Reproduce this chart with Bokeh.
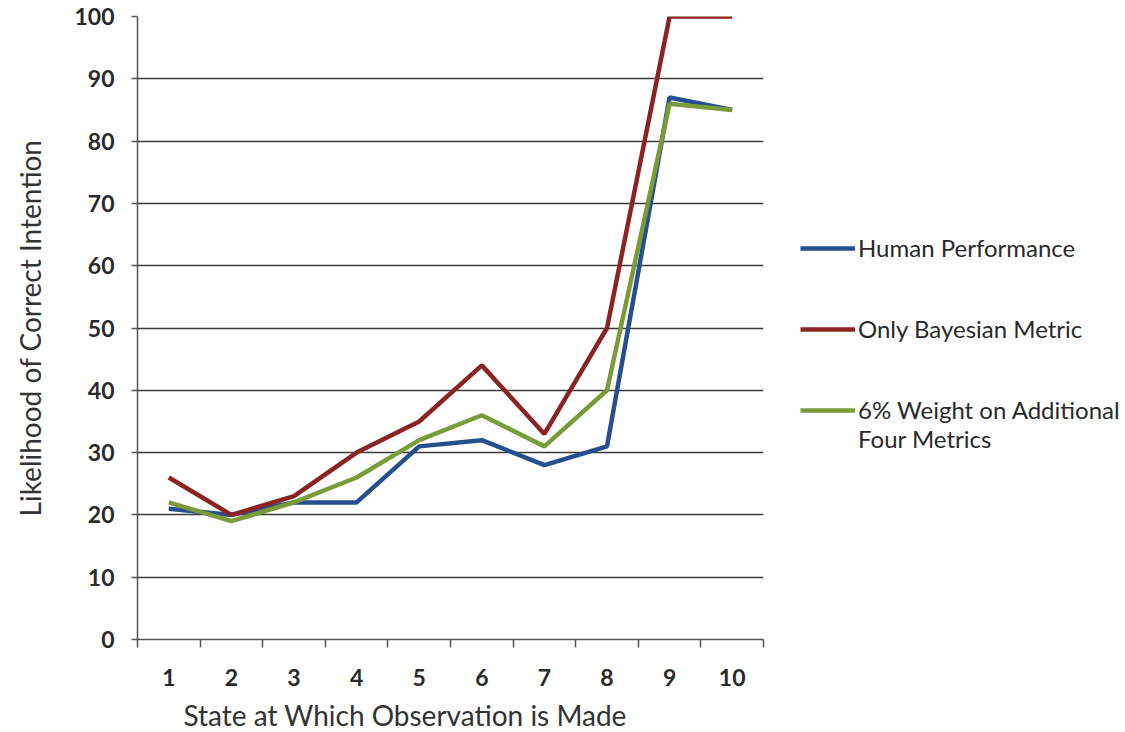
from bokeh.plotting import figure
from bokeh.models import Legend, LegendItem, FixedTicker, Title, Range1d
from bokeh.embed import file_html
from bokeh.resources import INLINE

states = [1, 2, 3, 4, 5, 6, 7, 8, 9, 10]
human = [21, 20, 22, 22, 31, 32, 28, 31, 87, 85]
bayes = [26, 20, 23, 30, 35, 44, 33, 50, 100, 100]
weighted = [22, 19, 22, 26, 32, 36, 31, 40, 86, 85]
series_names = ["Human Performance", "Only Bayesian Metric", "6% Weight on Additional"]
extra_label = "Four Metrics"
y_ticks = [0, 10, 20, 30, 40, 50, 60, 70, 80, 90, 100]

FONT = "Lato"
colors = ["#254F8E", "#8C2323", "#7A9B38"]

p = figure(frame_width=626, frame_height=623, x_range=Range1d(0.5, 10.5), y_range=Range1d(0, 100),
           output_backend="svg", toolbar_location=None,
           min_border_left=137, min_border_top=16, min_border_bottom=89, min_border_right=354)
p.outline_line_color = None
p.background_fill_color = "white"
p.xgrid.grid_line_color = None
p.ygrid.grid_line_color = "#3a3a3a"
p.ygrid.grid_line_width = 1.5
p.ygrid.ticker = FixedTicker(ticks=y_ticks)

yax = p.yaxis[0]
yax.ticker = FixedTicker(ticks=y_ticks)
yax.major_tick_out = 6
yax.major_tick_in = 0
yax.minor_tick_line_color = None
yax.axis_line_color = "#555555"
yax.axis_line_width = 1.5
yax.major_tick_line_color = "#555555"
yax.major_tick_line_width = 1.5
yax.major_label_text_font = FONT
yax.major_label_text_font_style = "bold"
yax.major_label_text_font_size = "23px"
yax.major_label_text_color = "#2a2a2a"
yax.major_label_standoff = 17
yax.axis_label = "Likelihood of Correct Intention"
yax.axis_label_text_font = FONT
yax.axis_label_text_font_style = "normal"
yax.axis_label_text_font_size = "28px"
yax.axis_label_text_color = "#333333"
yax.axis_label_standoff = 24

xax = p.xaxis[0]
minor = [s - 0.5 for s in states] + [states[-1] + 0.5]
xax.ticker = FixedTicker(ticks=states, minor_ticks=minor)
xax.major_tick_out = 0
xax.major_tick_in = 0
xax.minor_tick_out = 8
xax.minor_tick_in = 0
xax.minor_tick_line_color = "#555555"
xax.minor_tick_line_width = 1.5
xax.axis_line_color = "#555555"
xax.axis_line_width = 1.5
xax.major_label_text_font = FONT
xax.major_label_text_font_style = "bold"
xax.major_label_text_font_size = "23px"
xax.major_label_text_color = "#2a2a2a"
xax.major_label_standoff = 21

p.add_layout(Title(text="State at Which Observation is Made", align="left", offset=46,
                   text_font=FONT, text_font_style="normal", text_font_size="28px",
                   text_color="#333333", standoff=14), "below")

renderers = []
for vals, c in zip([human, bayes, weighted], colors):
    r = p.line(states, vals, line_color=c, line_width=4.5)
    renderers.append(r)
blank = p.line([], [], line_alpha=0)

# legend rows: series labels separated by spacer rows, then the wrapped second line
rows = [(series_names[0], renderers[0]), (" ", blank), (" ", blank),
        (series_names[1], renderers[1]), (" ", blank), (" ", blank),
        (series_names[2], renderers[2]), (extra_label, blank)]
legend = Legend(items=[LegendItem(label=t, renderers=[r]) for t, r in rows],
                location=(37, 186), spacing=0, glyph_width=55, glyph_height=10,
                label_height=26, label_text_font=FONT, label_text_font_size="24px",
                label_text_color="#2a2a2a", label_standoff=3, padding=0, margin=0,
                border_line_color=None, background_fill_alpha=0)
p.add_layout(legend, "right")

open("out.html", "w").write(file_html(p, INLINE))
